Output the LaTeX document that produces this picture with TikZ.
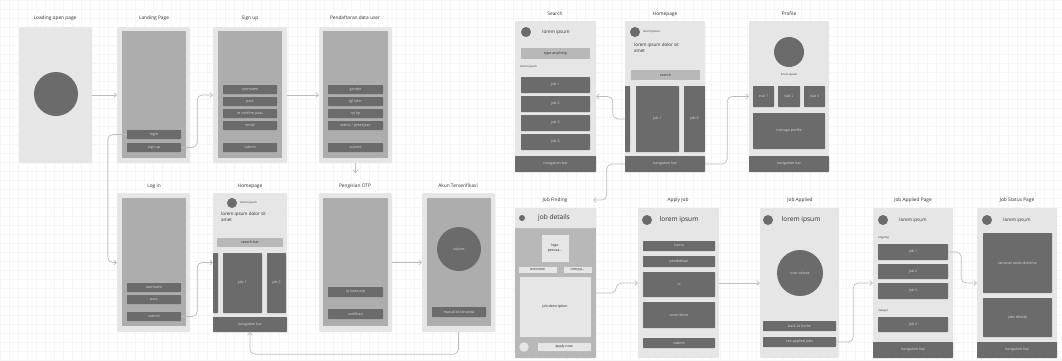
\documentclass[tikz,border=0pt]{standalone}
\usepackage{fontspec}
\setmainfont{Open Sans}
\usetikzlibrary{arrows.meta,positioning}
\definecolor{frameC}{HTML}{E6E6E6}
\definecolor{innerC}{HTML}{ADADAD}
\definecolor{darkC}{HTML}{6B6B6B}
\definecolor{barC}{HTML}{B8B8B8}
\definecolor{lineC}{HTML}{BDBDBD}
\definecolor{gridC}{HTML}{F6F6F6}
\definecolor{txtC}{HTML}{2E2E2E}

% box from its corners: style, name, x1, y1, x2, y2, text
\newcommand{\ui}[7]{\node[#1,minimum width={#5-#3},minimum height={#6-#4}] (#2) at ({(#3+#5)/2},{(#4+#6)/2}) {#7};}

\begin{document}
\begin{tikzpicture}[x=1pt,y=-1pt,
  screen/.style={fill=frameC,rounded corners=1pt,inner sep=0},
  midscreen/.style={fill=barC,rounded corners=1pt,inner sep=0},
  inner/.style={fill=innerC,inner sep=0},
  btn/.style={fill=darkC,rounded corners=0.6pt,inner sep=0,text=white!85!black,font=\fontsize{3.6}{4.2}\selectfont,align=center},
  bar/.style={fill=barC,inner sep=0,text=txtC,font=\fontsize{3.6}{4.2}\selectfont},
  lite/.style={fill=frameC,draw=gray!55,line width=0.3pt,inner sep=0,text=txtC,font=\fontsize{3.6}{4.2}\selectfont,align=center},
  title/.style={font=\fontsize{4.8}{5.5}\selectfont,text=txtC,inner sep=0},
  tiny/.style={font=\fontsize{2.8}{3.2}\selectfont,text=txtC,inner sep=0},
  sub/.style={font=\fontsize{4.6}{5.2}\selectfont,text=txtC,inner sep=0},
  big/.style={font=\fontsize{6.6}{7.5}\selectfont,text=txtC,inner sep=0},
  hello/.style={font=\fontsize{4.5}{5.6}\selectfont,text=txtC,inner sep=0,align=left},
  dot/.style={circle,fill=darkC,inner sep=0},
  conn/.style={draw=lineC,line width=0.7pt,rounded corners=5pt,-{Straight Barb[length=2.5pt,width=5pt]}}]

  \fill[white] (0,0) rectangle (1062,360);
  \useasboundingbox (0,0) rectangle (1062,360);
  \draw[gridC,line width=0.3pt,step=9pt] (0,0) grid (1062,360);

  % Loading open page
  \node[title] (tLoad) at (55,18) {Loading open page};
  \ui{screen}{load}{19}{27}{92}{163}{}
  \node[dot,minimum size=44] (loadLogo) at (56,94) {};

  % Landing Page
  \node[title] (tLand) at (154,18) {Landing Page};
  \ui{screen}{land}{117}{27}{190}{163}{}
  \ui{inner}{landIn}{122}{31}{186}{158}{}
  \ui{btn}{landLogin}{127}{130}{181}{139}{login}
  \ui{btn}{landSign}{127}{143}{181}{152}{sign up}

  % Sign up
  \node[title] (tSign) at (250,18) {Sign up};
  \ui{screen}{sign}{213}{27}{287}{163}{}
  \ui{inner}{signIn}{218}{31}{282}{158}{}
  \ui{btn}{signUser}{223}{85}{277}{94}{username}
  \ui{btn}{signPass}{223}{97}{277}{106}{pass}
  \ui{btn}{signRe}{223}{109}{277}{118}{re confirm pass}
  \ui{btn}{signMail}{223}{121}{277}{130}{email}
  \ui{btn}{signSub}{223}{143}{277}{152}{submit}

  % Pendaftaran data user
  \node[title] (tDaftar) at (355,18) {Pendaftaran data user};
  \ui{screen}{daftar}{319}{27}{392}{163}{}
  \ui{inner}{daftarIn}{323}{31}{388}{158}{}
  \ui{btn}{daftarGender}{328}{85}{383}{94}{gender}
  \ui{btn}{daftarLahir}{328}{97}{383}{106}{tgl lahir}
  \ui{btn}{daftarHp}{328}{109}{383}{118}{no hp}
  \ui{btn}{daftarKerja}{328}{121}{383}{130}{status / pekerjaan}
  \ui{btn}{daftarSub}{328}{143}{383}{152}{submit}

  % Log in
  \node[title] (tLogin) at (154,186) {Log in};
  \ui{screen}{login}{117}{193}{190}{332}{}
  \ui{inner}{loginIn}{122}{198}{186}{326}{}
  \ui{btn}{loginUser}{127}{283}{181}{292}{username}
  \ui{btn}{loginPass}{127}{295}{181}{304}{pass}
  \ui{btn}{loginSub}{127}{312}{181}{321}{submit}

  % Homepage
  \node[title] (tHome) at (250,186) {Homepage};
  \ui{screen}{home}{213}{193}{287}{332}{}
  \node[dot,minimum size=10] (homeAva) at (232,203) {};
  \node[tiny,anchor=west] (homeName) at (240,203) {lorem ipsum};
  \node[hello,anchor=north west] (homeHi) at (221,212) {lorem ipsum dolor sit\\amet};
  \ui{bar}{homeBar}{217}{238}{283}{247}{search bar}
  \ui{btn}{homeStrip}{213}{253}{218}{313}{}
  \ui{btn}{homeJob1}{223}{253}{262}{313}{job 1}
  \ui{btn}{homeJob2}{267}{253}{286}{313}{job 2}
  \ui{btn}{homeNav}{213}{317}{287}{332}{navigation bar}

  % Pengisian OTP
  \node[title] (tOtp) at (355,186) {Pengisian OTP};
  \ui{screen}{otp}{319}{193}{392}{332}{}
  \ui{inner}{otpIn}{323}{198}{388}{326}{}
  \ui{btn}{otpCode}{328}{287}{383}{297}{isi kode otp}
  \ui{btn}{otpVer}{328}{309}{383}{319}{verifikasi}
  \coordinate (otpArr) at (355.5,173);

  % Akun Terverifikasi
  \node[title] (tAkun) at (458,186) {Akun Terverifikasi};
  \ui{screen}{akun}{422}{193}{495}{332}{}
  \ui{inner}{akunIn}{427}{198}{491}{326}{}
  \node[dot,minimum size=44,text=white!85!black,font=\fontsize{3.6}{4.2}\selectfont] (akunOk) at (459,249) {sukses};
  \ui{btn}{akunMasuk}{432}{307}{486}{317}{masuk ke beranda}

  % Search
  \node[title] (tSearch) at (555,14) {Search};
  \ui{screen}{search}{515}{21}{596}{172}{}
  \node[dot,minimum size=10] (searchAva) at (526,32) {};
  \node[sub] (searchName) at (556,32) {lorem ipsum};
  \ui{bar}{searchBar}{521}{48}{590}{59}{type anything}
  \node[tiny,anchor=west] (searchLbl) at (520,67) {lorem ipsum};
  \ui{btn}{searchJob1}{521}{77}{590}{93}{job 1}
  \ui{btn}{searchJob2}{521}{96}{590}{112}{job 2}
  \ui{btn}{searchJob3}{521}{115}{590}{131}{job 3}
  \ui{btn}{searchJob4}{521}{134}{590}{150}{job 4}
  \ui{btn}{searchNav}{515}{156}{596}{172}{navigation bar}

  % Homepage (jobs)
  \node[title] (tHomeR) at (665,14) {Homepage};
  \ui{screen}{homeR}{625}{21}{705}{172}{}
  \node[dot,minimum size=10] (homeRAva) at (635,32) {};
  \node[tiny,anchor=west] (homeRName) at (643,32) {lorem ipsum};
  \node[hello,anchor=north west] (homeRHi) at (634,43) {lorem ipsum dolor sit\\amet};
  \ui{bar}{homeRBar}{631}{70}{700}{80}{search}
  \ui{btn}{homeRStrip}{625}{86}{630}{152}{}
  \ui{btn}{homeRJob1}{636}{86}{679}{152}{job 1}
  \ui{btn}{homeRJob2}{684}{86}{705}{152}{job 2}
  \ui{btn}{homeRNav}{625}{156}{705}{172}{navigation bar}
  \coordinate (jobfArr) at (593,200);

  % Profile
  \node[title] (tProfile) at (789,14) {Profile};
  \ui{screen}{profile}{749}{21}{829}{172}{}
  \node[dot,minimum size=30] (profPic) at (789,52) {};
  \node[tiny] (profName) at (789,75) {lorem ipsum};
  \ui{btn}{profStat1}{753}{86}{774}{107}{stat 1}
  \ui{btn}{profStat2}{778}{86}{800}{107}{stat 2}
  \ui{btn}{profStat3}{804}{86}{825}{107}{stat 3}
  \ui{btn}{profManage}{753}{113}{825}{149}{manage profile}
  \ui{btn}{profNav}{749}{156}{829}{172}{navigation bar}

  % Job Finding
  \node[title] (tJobf) at (555,200) {Job Finding};
  \ui{midscreen}{jobf}{515}{208}{596}{358}{}
  \ui{screen}{jobfHead}{515}{208}{596}{228}{}
  \node[dot,minimum size=6] (jobfAva) at (522,218) {};
  \node[big] (jobfTitle) at (554,218) {job details};
  \ui{lite}{jobfLogo}{541}{234}{569}{262}{logo\\perusa...}
  \ui{lite}{jobfOver}{518}{266}{557}{273}{overview}
  \ui{lite}{jobfComp}{563}{266}{592}{273}{compa...}
  \ui{lite}{jobfDesc}{519}{276}{591}{337}{job description}
  \node[circle,fill=frameC,draw=gray!55,line width=0.3pt,minimum size=10,inner sep=0] (jobfSave) at (524,347) {};
  \ui{lite}{jobfApply}{537}{342}{591}{351}{apply now}

  % Apply Job
  \node[title] (tApply) at (678,200) {Apply Job};
  \ui{screen}{apply}{638}{208}{719}{358}{}
  \node[dot,minimum size=10] (applyAva) at (647,220) {};
  \node[big] (applyName) at (679,220) {lorem ipsum};
  \ui{btn}{applyNama}{643}{241}{715}{251}{nama}
  \ui{btn}{applyPend}{643}{256}{715}{267}{pendidikan}
  \ui{btn}{applyCv}{643}{272}{715}{297}{cv}
  \ui{btn}{applyCover}{643}{302}{715}{328}{cover letter}
  \ui{btn}{applySub}{643}{338}{715}{348}{submit}

  % Job Applied
  \node[title] (tJapp) at (800,200) {Job Applied};
  \ui{screen}{japp}{760}{208}{839}{358}{}
  \node[dot,minimum size=10] (jappAva) at (768,220) {};
  \node[big] (jappName) at (801,220) {lorem ipsum};
  \node[dot,minimum size=46,text=white!85!black,font=\fontsize{3.6}{4.2}\selectfont] (jappOk) at (800,273) {icon sukses};
  \ui{btn}{jappHome}{763}{321}{836}{331}{back to home}
  \ui{btn}{jappSee}{763}{337}{836}{347}{see applied jobs}

  % Job Applied Page
  \node[title] (tJpage) at (913,200) {Job Applied Page};
  \ui{screen}{jpage}{873}{208}{953}{358}{}
  \node[dot,minimum size=10] (jpageAva) at (883,220) {};
  \node[sub] (jpageName) at (913,220) {lorem ipsum};
  \node[tiny,anchor=west] (jpageOn) at (878,238) {ongoing};
  \ui{btn}{jpageJob1}{878}{244}{948}{260}{job 1}
  \ui{btn}{jpageJob2}{878}{264}{948}{279}{job 2}
  \ui{btn}{jpageJob3}{878}{283}{948}{299}{job 3}
  \node[tiny,anchor=west] (jpageDone) at (878,311) {riwayat};
  \ui{btn}{jpageJob4}{878}{317}{948}{332}{job 4}
  \ui{btn}{jpageNav}{873}{342}{953}{358}{navigation bar}

  % Job Status Page
  \node[title] (tStatus) at (1017,200) {Job Status Page};
  \ui{screen}{status}{977}{208}{1057}{358}{}
  \node[dot,minimum size=10] (statusAva) at (987,220) {};
  \node[sub] (statusName) at (1017,220) {lorem ipsum};
  \ui{btn}{statusOk}{983}{233}{1052}{293}{lamaran anda diterima}
  \ui{btn}{statusNo}{983}{298}{1052}{337}{jobs ditolak}
  \ui{btn}{statusNav}{977}{342}{1057}{358}{navigation bar}

  % flow
  \draw[conn] (load.east) -- (land.west);
  \draw[conn] (landSign.east) -- ++(16,0) |- (sign.west);
  \draw[conn] (sign.east) -- (daftar.west);
  \draw[conn] (daftar.south) -- (otpArr);
  \draw[conn] (landLogin.west) -- ++(-19,0) |- (login.west);
  \draw[conn] (loginSub.east) -- ++(16,0) |- (home.west);
  \draw[conn] (otp.east) -- (akun.west);
  \draw[conn] (akun.south) -- ++(0,22) -| (home.south);
  \draw[conn] (homeRStrip.west) -- ++(-12,0) |- (search.east);
  \draw[conn] (homeRNav.east) -- ++(22,0) |- (profile.west);
  \draw[conn] (homeRNav.west) -- ++(-18,0) |- (jobfArr);
  \draw[conn] ([yshift=-10pt]jobf.east) -- ++(20,0) |- (apply.west);
  \draw[conn] (apply.east) -- (japp.west);
  \draw[conn] (jappSee.east) -- ++(17,0) |- (jpage.west);
  \draw[conn] (jpageJob1.east) -- ++(13,0) |- (status.west);
\end{tikzpicture}
\end{document}
